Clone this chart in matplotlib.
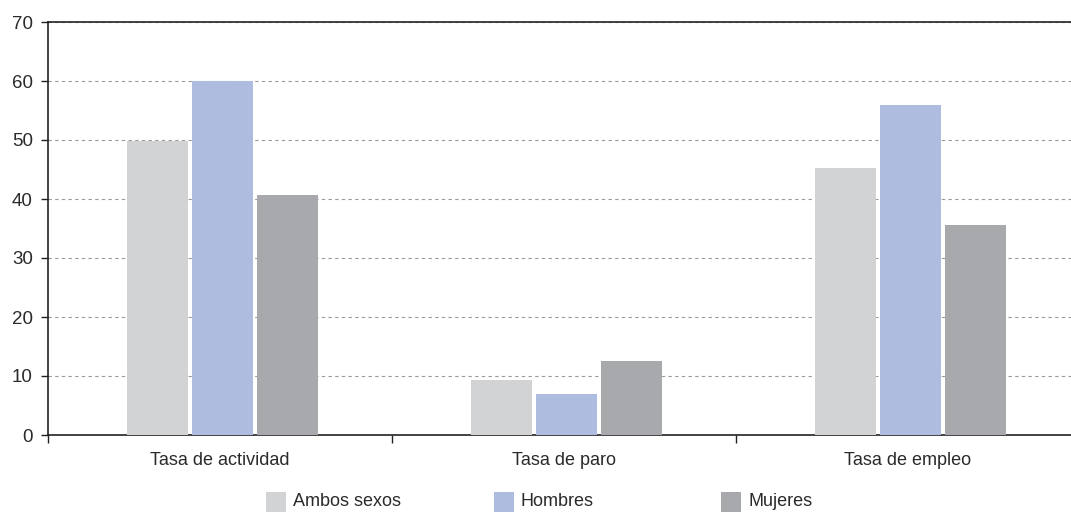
import matplotlib
matplotlib.use("Agg")
import matplotlib.pyplot as plt
from matplotlib.patches import Rectangle
import numpy as np

categories = ["Tasa de actividad", "Tasa de paro", "Tasa de empleo"]
series_names = ["Ambos sexos", "Hombres", "Mujeres"]
ambos = [49.8, 9.3, 45.3]
hombres = [60.0, 6.9, 55.9]
mujeres = [40.7, 12.5, 35.6]
colors = ["#d2d3d5", "#aebddf", "#a8a9ad"]
yticks = [0, 10, 20, 30, 40, 50, 60, 70]

plt.rcParams['font.family'] = ['Liberation Sans', 'DejaVu Sans']
txtc = "#2a2a2a"

fig = plt.figure(figsize=(10.71, 5.12), dpi=100)
ax = fig.add_axes([48/1071, 1-435/512, (1080-48)/1071, (435-22)/512])

x = np.arange(len(categories))
bw = 0.178
step = 0.189
for i, (vals, c) in enumerate(zip([ambos, hombres, mujeres], colors)):
    ax.bar(x + (i-1)*step + 0.007, vals, width=bw, color=c, zorder=3)

ax.set_xlim(-0.5, 2.5)
ax.set_ylim(0, 70)
ax.set_yticks(yticks)
ax.set_yticklabels([str(v) for v in yticks], fontsize=13.5, color=txtc)
ax.yaxis.grid(True, linestyle=(0, (3, 3)), color="#9a9a9a", linewidth=0.8, zorder=0)

ax.set_xticks(x)
ax.set_xticklabels(categories, fontsize=13, color=txtc)
ax.tick_params(axis='x', which='major', length=0, pad=12)
ax.set_xticks([-0.5, 0.5, 1.5], minor=True)
ax.tick_params(axis='x', which='minor', length=6, width=1, color="#222222", direction='out')
ax.tick_params(axis='y', length=5, width=1, color="#222222", pad=6)

for s in ['left', 'bottom', 'top']:
    ax.spines[s].set_color("#222222")
    ax.spines[s].set_linewidth(1.2)
ax.spines['right'].set_visible(False)

# legend
leg_x = [266, 494, 721]
for lx, name, c in zip(leg_x, series_names, colors):
    fig.add_artist(Rectangle((lx/1071, 0), 20/1071, 20/512, transform=fig.transFigure,
                             facecolor=c, edgecolor='none'))
    fig.text((lx+27)/1071, 10/512, name, fontsize=13, color=txtc, va='center', ha='left')

fig.savefig("out.png", dpi=100)
